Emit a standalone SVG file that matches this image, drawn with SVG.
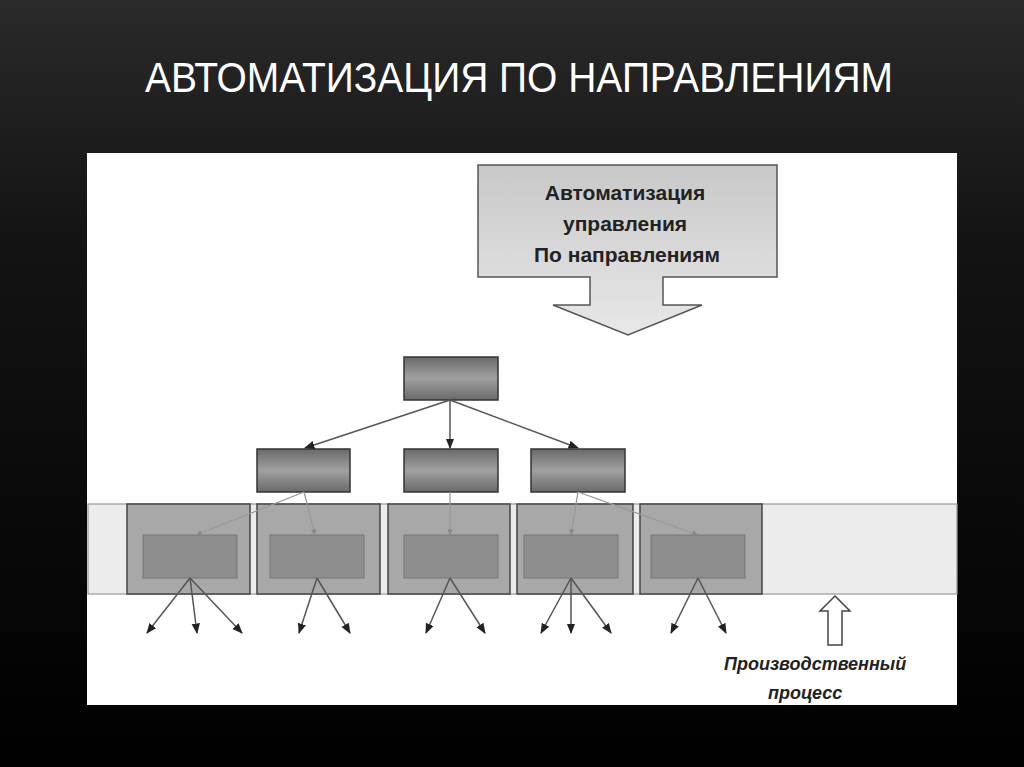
<svg xmlns="http://www.w3.org/2000/svg" width="1024" height="767" viewBox="0 0 1024 767">
<defs>
<linearGradient id="bg" x1="0" y1="0" x2="0" y2="1"><stop offset="0" stop-color="#2a2a2a"/><stop offset="0.3" stop-color="#141414"/><stop offset="1" stop-color="#000"/></linearGradient>
<linearGradient id="box" x1="0" y1="0" x2="0" y2="1"><stop offset="0" stop-color="#6a6a6a"/><stop offset="0.5" stop-color="#a0a0a0"/><stop offset="1" stop-color="#6a6a6a"/></linearGradient>
<linearGradient id="call" x1="0" y1="0" x2="0" y2="1"><stop offset="0" stop-color="#c8c8c8"/><stop offset="1" stop-color="#e8e8e8"/></linearGradient>
<marker id="ah" viewBox="0 0 10 10" refX="9" refY="5" markerWidth="7" markerHeight="7" orient="auto"><path d="M0,1 L10,5 L0,9 z" fill="#222"/></marker>
<marker id="ahs" viewBox="0 0 10 10" refX="9" refY="5" markerWidth="5" markerHeight="5" orient="auto"><path d="M0,1 L10,5 L0,9 z" fill="#888"/></marker>
</defs>
<style>
.n{fill:url(#box);stroke:#333;stroke-width:1.5}
.o{fill:#a8a8a8;stroke:#444;stroke-width:1.5}
.i{fill:#8e8e8e;stroke:#777;stroke-width:1}
.c{stroke:#555;stroke-width:1.5;fill:none;marker-end:url(#ah)}
.s{stroke:#999;stroke-width:1.3;fill:none;marker-end:url(#ahs)}
.t{font-family:"Liberation Sans",Arial,sans-serif;font-weight:bold;fill:#222}
</style>
<rect width="1024" height="767" fill="url(#bg)"/>
<text x="519" y="92" text-anchor="middle" font-family="'Liberation Sans',Arial,sans-serif" font-size="42" fill="#fff" textLength="748" lengthAdjust="spacingAndGlyphs">АВТОМАТИЗАЦИЯ ПО НАПРАВЛЕНИЯМ</text>
<rect x="87" y="153" width="870" height="552" fill="#fff"/>
<g id="callout">
<path d="M478,165 H777 V277 H663 V305 H702 L628,335 L553,305 H590 V277 H478 Z" fill="url(#call)" stroke="#555" stroke-width="1.5"/>
<text class="t" font-size="21" text-anchor="middle"><tspan x="625" y="200">Автоматизация</tspan><tspan x="625" y="231">управления</tspan><tspan x="627" y="262">По направлениям</tspan></text>
</g>
<g id="band"><rect x="88" y="504" width="869" height="90" fill="#ececec" stroke="#999" stroke-width="1.2"/></g>
<g id="outer">
<rect class="o" x="127" y="504" width="123" height="90"/>
<rect class="o" x="257" y="504" width="123" height="90"/>
<rect class="o" x="388" y="504" width="122" height="90"/>
<rect class="o" x="517" y="504" width="116" height="90"/>
<rect class="o" x="640" y="504" width="122" height="90"/>
</g>
<g id="inner">
<rect class="i" x="143" y="535" width="94" height="43"/>
<rect class="i" x="270" y="535" width="94" height="43"/>
<rect class="i" x="404" y="535" width="94" height="43"/>
<rect class="i" x="524" y="535" width="94" height="43"/>
<rect class="i" x="651" y="535" width="94" height="43"/>
</g>
<g id="top"><rect class="n" x="404" y="357" width="94" height="43"/></g>
<g id="m1"><rect class="n" x="257" y="449" width="93" height="43"/></g>
<g id="m2"><rect class="n" x="404" y="449" width="94" height="43"/></g>
<g id="m3"><rect class="n" x="531" y="449" width="94" height="43"/></g>
<g id="connectors">
<path class="c" d="M450,400 L305,448"/>
<path class="c" d="M450,400 L450,448"/>
<path class="c" d="M450,400 L578,448"/>
<path class="s" d="M304,492 L196,535"/>
<path class="s" d="M304,492 L315,535"/>
<path class="s" d="M450,492 L450,535"/>
<path class="s" d="M578,492 L571,535"/>
<path class="s" d="M578,492 L698,535"/>
<path class="c" d="M190,578 L147,633"/>
<path class="c" d="M190,578 L197,633"/>
<path class="c" d="M190,578 L242,633"/>
<path class="c" d="M317,578 L299,633"/>
<path class="c" d="M317,578 L350,633"/>
<path class="c" d="M450,578 L426,633"/>
<path class="c" d="M450,578 L485,633"/>
<path class="c" d="M571,578 L541,633"/>
<path class="c" d="M571,578 L571,633"/>
<path class="c" d="M571,578 L611,633"/>
<path class="c" d="M698,578 L671,633"/>
<path class="c" d="M698,578 L726,633"/>
</g>
<g id="process">
<path d="M835,596 L850,611 H842 V645 H828 V611 H820 Z" fill="#fff" stroke="#444" stroke-width="1.5"/>
<text class="t" font-size="18" font-style="italic" fill="#333"><tspan x="724" y="670">Производственный</tspan><tspan x="768" y="699">процесс</tspan></text>
</g>
</svg>
